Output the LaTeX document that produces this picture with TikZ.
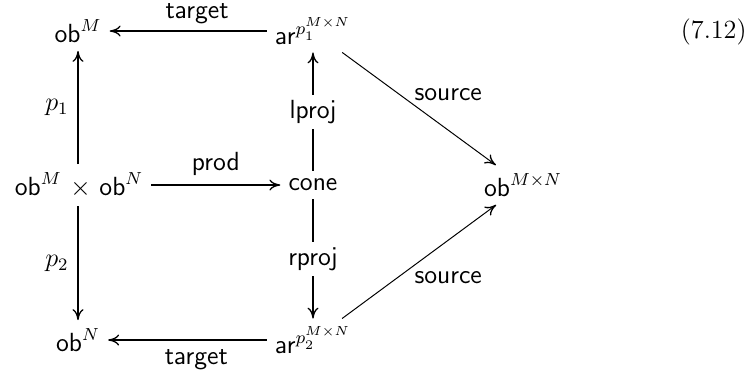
\documentclass[12pt,tikz,border=0pt]{standalone}
\usetikzlibrary{arrows.meta}
\tikzset{
  tip/.style={-{To[length=5pt,width=5pt,line width=0.6pt]}},
  obj/.style={inner sep=3.8pt, outer sep=0pt},
  lab/.style={inner sep=3.7pt},
  toplab/.style={inner sep=3.0pt},
  onlab/.style={inner sep=2.4pt, fill=white},
  heavyarr/.style={tip, line width=1.2pt},
  midarr/.style={tip, line width=0.85pt},
  thinarr/.style={tip, line width=0.45pt},
}
\begin{document}
\begin{tikzpicture}[x=0.4577pt, y=-0.4577pt]
\useasboundingbox (0,0) rectangle (751,373);
\node[obj] (obM)   at (78,31)   {$\mathsf{ob}^M$};
\node[obj] (arp1)  at (313,31)  {$\mathsf{ar}^{p_1^{M\times N}}$};
\node[obj] (obMob) at (79,185)  {$\mathsf{ob}^M\mskip2mu\times\mskip2mu\mathsf{ob}^N$};
\node[obj] (cone)  at (313,185) {$\mathsf{cone}$};
\node[obj] (obMN)  at (523,185) {$\mathsf{ob}^{M\times N}$};
\node[obj] (obN)   at (78,340)  {$\mathsf{ob}^N$};
\node[obj] (arp2)  at (313,340) {$\mathsf{ar}^{p_2^{M\times N}}$};
\node[anchor=base east, inner sep=0pt] (eqno) at (747,38) {$(7.12)$};

\draw[midarr] (arp1) -- node[toplab, pos=.444, above] {$\mathsf{target}$} (obM);
\draw[midarr] (arp2) -- node[lab, pos=.444, below] {$\mathsf{target}$} (obN);
\draw[heavyarr] (obMob.north -| obM) -- node[lab, left] {$p_1$} (obM);
\draw[heavyarr] (obMob.south -| obN) -- node[lab, left] {$p_2$} (obN);
\draw[heavyarr] (obMob) -- node[lab, above] {$\mathsf{prod}$} (cone);
\draw[heavyarr] (cone) -- node[onlab] {$\mathsf{lproj}$} (arp1);
\draw[heavyarr] (cone) -- node[onlab] {$\mathsf{rproj}$} (arp2);
\draw[thinarr] (arp1) -- node[inner sep=0pt, pos=.5, anchor=base west, xshift=-2.3pt, yshift=3.6pt] {$\mathsf{source}$} (obMN);
\draw[thinarr] (arp2) -- node[inner sep=0pt, pos=.5, anchor=base west, xshift=-2.3pt, yshift=-10pt] {$\mathsf{source}$} (obMN);
\end{tikzpicture}
\end{document}
